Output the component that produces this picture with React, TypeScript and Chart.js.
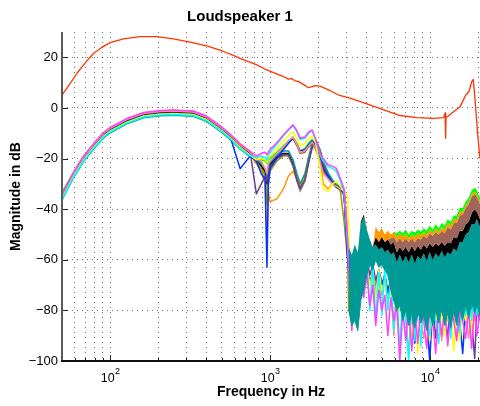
import React, { useEffect, useRef } from "react";
import { Chart, registerables } from "chart.js";

Chart.register(...registerables);

const FONT = "'Liberation Sans', Arial, Helvetica, sans-serif";

// ---- axes ----
const X_TICKS = [50, 60, 70, 80, 90, 100, 200, 300, 400, 500, 600, 700, 800, 900, 1000, 2000, 3000, 4000, 5000, 6000, 7000, 8000, 9000, 10000, 20000];
const X_DECADES = [100, 1000, 10000];
const X_EXPONENTS = ["2", "3", "4"];
const Y_TICKS = [-100, -80, -60, -40, -20, 0, 20];

// ---- red curve ----
const RED_FREQ = [50, 56, 62, 71.5, 79, 89, 100, 121, 154, 196, 249, 316, 402, 511, 589, 649, 825, 953, 1212, 1300, 1366, 1420, 1508, 1620, 1734, 1830, 1908, 2053, 2371, 2676, 3088, 4029, 5126, 6494, 8254, 10500, 12140, 12420, 12500, 12580, 12900, 14000, 15400, 16700, 17500, 18200, 18600, 19100, 19800, 20400, 20500];
const RED_DB = [5.1, 9.5, 13.7, 18.6, 21.6, 24, 25.8, 27.3, 28.2, 28.2, 27.3, 26, 24.5, 22.3, 20.8, 19.6, 17, 15, 12.4, 11.4, 11.6, 10.8, 10.4, 9.2, 8, 8.4, 8.8, 8.6, 6.8, 5.1, 4.1, 1.6, -0.8, -3, -3.8, -4.1, -3.8, -2, -12, -3.6, -3.4, -1.5, 0.5, 5.1, 6.5, 10.4, 11.3, 3.2, -10, -19, -20];

// ---- bundle, low/mid band (50 Hz .. 3 kHz) ----
const FREQ_LOW = [50, 55, 60, 68, 79, 91, 100, 127, 162, 205, 250, 330, 400, 490, 560, 650, 750, 820, 880, 930, 955, 975, 1000, 1100, 1210, 1300, 1390, 1470, 1540, 1650, 1740, 1830, 1930, 2050, 2150, 2300, 2450, 2600, 2750, 2900, 3050];

const MAGENTA_LOW = [-34.2, -29.2, -24.7, -19.2, -14, -9.7, -7.7, -4.2, -1.8, -1, -0.8, -1.2, -3.2, -7.2, -10.2, -14.2, -17.2,
  -19, -18, -17.5, -18.5, -17.5, -16.5, -13.8, -10.7, -8.5, -6.7, -9, -12, -11.5, -9.5, -8.7, -12.5, -18, -20, -22.5, -23, -24, -28, -32, -52];
const CYAN_LOW = [-36, -31, -26.5, -21, -15.8, -11.5, -9.5, -6, -3.6, -2.8, -2.6, -3, -5, -9, -12, -16, -19,
  -19.5, -19, -19.5, -20.5, -18.5, -17.5, -14.5, -11, -8.8, -7, -9.5, -12.5, -12, -10, -9, -12.8, -18.5, -21, -23, -24, -25, -29, -33, -55];
const YELLOW_LOW = [-35.7, -30.7, -26.2, -20.7, -15.5, -11.2, -9.2, -5.7, -3.3, -2.5, -2.3, -2.7, -4.7, -8.7, -11.7, -15.7, -18.7,
  -20.5, -20, -20.5, -21.5, -19.5, -19, -16, -13, -11, -9.5, -12, -15, -14, -12, -11, -14, -24, -32, -33, -30, -29, -31, -33, -35];
const GREEN_LOW = [-33.3, -28.8, -24.8, -19.6, -14.6, -10.4, -8.5, -5.1, -2.7, -1.9, -1.7, -2.1, -4.1, -8.1, -11.1, -15.1, -18.1,
  -21, -20.5, -21, -22, -20.5, -20, -17.5, -15, -13, -11.5, -14, -17, -16, -14, -12.5, -15, -20, -25, -27.5, -29, -30, -31, -33, -50];
const SALMON_LOW = [-34.6, -29.6, -25.1, -19.6, -14.4, -10.1, -8.1, -4.6, -2.2, -1.4, -1.2, -1.6, -3.6, -7.6, -10.6, -14.6, -17.6,
  -20, -21, -24, -26, -22, -21, -18, -15.5, -13, -11.5, -14.5, -17.5, -17, -15, -13.5, -16, -21, -26, -28, -30, -31, -32, -33, -48];
const BLUE_LOW = [-34.8, -29.8, -25.3, -19.8, -14.6, -10.3, -8.3, -4.8, -2.4, -1.6, -1.4, -1.8, -3.8, -7.8, -11, -24, -19,
  -21, -26, -28, -63, -30, -24, -20, -16.5, -14, -12, -14.5, -17, -16.5, -14.5, -13, -15.5, -20, -24, -27, -29.5, -31, -32, -34, -60];
const BROWN_LOW = [-34.7, -29.7, -25.2, -19.7, -14.5, -10.2, -8.2, -4.7, -2.3, -1.5, -1.3, -1.7, -3.7, -7.7, -10.7, -14.7, -17.7,
  -21, -22, -25, -27, -23, -22, -19, -16, -14, -12, -15, -18, -17.5, -15.5, -14, -16.5, -21, -25, -28, -30, -31, -32, -33, -50];
const BLACK_LOW = [-35, -30, -25.5, -20, -14.8, -10.5, -8.5, -5, -2.6, -1.8, -1.6, -2, -4, -8, -11, -15, -18,
  -21, -23, -25, -30, -25, -22.5, -19.5, -18, -18, -22, -28, -31.5, -28, -21, -15, -12.8, -17, -22, -26.5, -29, -31, -31.5, -34, -55];
const GRAY_LOW = [-35.2, -30.2, -25.7, -20.2, -15, -10.7, -8.7, -5.2, -2.8, -2, -1.8, -2.2, -4.2, -8.2, -11.2, -15.2, -18.2,
  -21.5, -24, -26, -33, -26, -23, -20, -18.5, -18.5, -23, -29, -33, -29, -22, -15.5, -13.5, -17.5, -23, -27, -29.5, -31.5, -32, -35, -56];
const TEAL_LOW = [-36.3, -31.3, -26.8, -21.3, -16.1, -11.8, -9.8, -6.3, -3.9, -3.1, -2.9, -3.3, -5.3, -9.3, -12.3, -16.3, -19.3,
  -20, -22, -24, -27, -23, -21.5, -18.5, -17, -17, -20.5, -26, -30, -26, -19.5, -14, -12.6, -16.5, -21, -25.5, -28.5, -30.5, -31, -33, -55];
const ORANGE_LOW = [-35.4, -30.4, -25.9, -20.4, -15.2, -10.9, -8.9, -5.4, -3, -2.2, -2, -2.4, -4.4, -8.4, -11.4, -15.4, -18.4,
  -22, -25, -30, -55, -33, -37, -36, -32, -27, -25, -28, -30, -26, -20, -16, -15, -20, -30, -32, -30, -31, -32, -34, -58];
const PURPLE_LOW = [-34.4, -29.4, -24.9, -19.4, -14.2, -9.9, -7.9, -4.4, -2, -1.2, -1, -1.4, -3.4, -7.4, -10.4, -14.4, -17.4,
  -34, -30, -27, -29, -25, -23, -20, -18.5, -18.5, -22.5, -28.5, -32, -28.5, -21.5, -15.5, -13.5, -17.5, -22.5, -27, -29.5, -31.5, -32, -34, -58];
const OLIVE_LOW = [-35.5, -30.5, -26, -20.5, -15.3, -11, -9, -5.5, -3.1, -2.3, -2.1, -2.5, -4.5, -8.5, -11.5, -15.5, -18.5,
  -21, -24, -27, -38, -30, -25, -21, -19, -19, -23, -28, -31, -28, -21, -15.5, -13.5, -17, -22, -27, -30, -31, -33, -45, -60];

// ---- noisy high band (3.1 kHz .. 20.5 kHz) ----
const FREQ_HIGH = [3100, 3240, 3380, 3530, 3690, 3850, 4020, 4200, 4380, 4570, 4780, 4990, 5210, 5440, 5680, 5930, 6190, 6460, 6750, 7040, 7350, 7680, 8020, 8370, 8740, 9120, 9520, 9940, 10380, 10840, 11320, 11820, 12340, 12880, 13450, 14040, 14660, 15300, 15980, 16680, 17420, 18190, 18990, 19600, 20500];

const GREEN_HIGH = [-55, -58, -54, -57, -45, -42, -48, -52, -55, -47, -49, -47.5, -50, -48.5, -50, -49,
  -49.5, -48.5, -49.5, -48, -50, -48.5, -49.5, -48, -49, -47.5, -48.5, -46.5, -48, -46, -47.5, -45.5, -46.5, -44, -45, -42.5, -42.5, -39.5, -39.5, -37, -35.5, -32.5, -31.5, -32.5, -35.5];
const ORANGE_HIGH = [-55, -58, -54, -57, -45, -42, -48, -52, -55, -47, -49, -47.5, -50, -48.5, -50, -49,
  -51, -49.5, -51, -49.5, -51.5, -50, -51, -49.5, -50.5, -49, -50, -48, -49.5, -47.5, -49, -47, -48, -45.5, -46.5, -44, -44, -41, -41, -38.5, -37, -34, -33, -34, -37];
const BROWN_HIGH = [-55, -58, -54, -57, -45, -42, -48, -52, -55, -51, -53, -51, -53, -52, -51.5, -51,
  -53, -51.5, -53, -51.5, -53, -51.5, -53, -51.5, -52, -50.5, -51.5, -49.5, -50.5, -49, -50, -48.5, -49.5, -47, -48, -45.5, -45.5, -42.5, -42, -39.5, -38, -35, -34, -35, -38];
const BLACK_HIGH = [-55, -58, -54, -57, -45, -42, -48, -52, -55, -51, -53, -51, -53, -52, -54, -53,
  -57, -55, -56.5, -55, -57, -54.5, -56.5, -54.5, -56, -54, -55.5, -53.5, -55, -53.5, -54.5, -53, -54.5, -53, -53.5, -51, -51.5, -48.5, -48.5, -46, -45, -41.5, -40, -41, -44];
const TEAL_HIGH_TOP = [-55, -58, -54, -57, -46, -43, -48, -52, -55, -54, -56, -55, -57, -56, -58, -57,
  -61, -58, -61, -58.5, -61, -58, -61.5, -58.5, -60, -57.5, -60.5, -57, -60, -57.5, -59, -56.5, -59, -57, -58, -55.5, -56.5, -53, -53, -50, -49, -46, -46, -44, -47];
const TEAL_HIGH_BOTTOM = [-80, -86, -84, -88, -76, -72, -66, -62, -64, -60, -63, -62, -64, -66, -72, -76,
  -80, -78, -84, -80, -86, -81, -87, -80, -85, -82, -88, -81, -86, -80, -85, -79, -86, -81, -87, -80, -86, -79, -84, -78, -83, -77, -81, -78, -82];

const MAGENTA_HIGH = [-66, -88, -70, -82, -52, -75, -65, -78, -70, -86, -72, -80, -74, -90, -75, -84, -78, -100, -80, -92, -78, -96, -80, -93, -78, -84, -95, -80, -84, -97, -80, -90, -78, -94, -80, -84, -92, -80, -84, -91, -80, -95, -78, -90, -80];
const CYAN_HIGH = [-62, -70, -60, -75, -55, -68, -62, -80, -62, -84, -65, -82, -63, -80, -66, -88, -70, -97, -72, -84, -100, -75, -92, -72, -94, -74, -84, -90, -74, -84, -93, -72, -84, -74, -91, -72, -84, -89, -72, -82, -70, -84, -68, -82, -66];
const YELLOW_HIGH = [-50, -70, -62, -78, -60, -72, -64, -70, -66, -75, -64, -72, -68, -78, -70, -85, -72, -80, -74, -82, -76, -93, -78, -97, -78, -82, -78, -92, -78, -84, -78, -82, -90, -80, -78, -96, -80, -92, -78, -84, -76, -88, -70, -80, -76];
const BLUE_HIGH = [-64, -72, -66, -74, -60, -70, -64, -68, -66, -72, -64, -70, -66, -74, -68, -76, -70, -78, -72, -80, -74, -82, -93, -78, -80, -76, -82, -100, -78, -80, -76, -82, -78, -92, -76, -82, -78, -84, -97, -80, -76, -80, -74, -78, -74];
const SALMON_HIGH = [-60, -74, -64, -80, -58, -73, -62, -70, -64, -72, -66, -74, -68, -76, -70, -90, -72, -80, -74, -82, -97, -78, -82, -76, -84, -91, -80, -78, -84, -80, -82, -92, -80, -84, -78, -82, -90, -80, -78, -82, -91, -80, -84, -78, -82];
const PURPLE_HIGH = [-58, -66, -60, -68, -56, -64, -60, -66, -62, -68, -64, -70, -66, -72, -68, -74, -70, -76, -72, -78, -74, -80, -76, -80, -76, -82, -78, -82, -78, -91, -78, -82, -80, -84, -78, -82, -80, -84, -80, -82, -78, -84, -99, -80, -84];
const OLIVE_HIGH = [-80, -62, -72, -66, -58, -68, -62, -66, -64, -70, -66, -72, -68, -74, -70, -76, -72, -78, -74, -80, -76, -80, -76, -82, -78, -80, -76, -82, -78, -80, -76, -82, -78, -80, -76, -82, -78, -80, -76, -80, -74, -78, -72, -76, -74];

// ---- colours ----
const C = {
  red: "#ff3300",
  magenta: "#ff40ff",
  cyan: "#00ffff",
  yellow: "#ffff00",
  green: "#00ff00",
  salmon: "#ff8c8c",
  blue: "#0033ff",
  brown: "#a0665c",
  black: "#000000",
  gray: "#999999",
  teal: "#009a96",
  orange: "#ff9900",
  purple: "#6a3d9a",
  olive: "#999900",
};

const toPts = (xs: number[], ys: number[]) => xs.map((x, i) => ({ x, y: ys[i] }));
const FREQ_ALL = FREQ_LOW.concat(FREQ_HIGH);

const line = (label: string, color: string, xs: number[], ys: number[], width = 1.5) => ({
  label,
  data: toPts(xs, ys),
  borderColor: color,
  backgroundColor: color,
  borderWidth: width,
  borderJoinStyle: "round",
  pointRadius: 0,
  fill: false,
});

const band = (label: string, color: string, ys: number[]) => ({
  label,
  data: toPts(FREQ_HIGH, ys),
  borderColor: "rgba(0,0,0,0)",
  backgroundColor: color,
  borderWidth: 1,
  pointRadius: 0,
  fill: "+1",
});

const decorPlugin = {
  id: "decor",
  afterDatasetsDraw(chart: any) {
    const { ctx, chartArea: a, scales } = chart;
    const x = scales.x;
    const y = scales.y;
    ctx.save();
    ctx.setLineDash([]);
    ctx.strokeStyle = "#222";
    ctx.lineWidth = 1;
    for (const v of X_TICKS) {
      const px = Math.round(x.getPixelForValue(v)) + 0.5;
      const len = X_DECADES.includes(v) ? 6 : 3;
      ctx.beginPath();
      ctx.moveTo(px, a.bottom);
      ctx.lineTo(px, a.bottom - len);
      ctx.stroke();
    }
    for (const v of Y_TICKS) {
      const py = Math.round(y.getPixelForValue(v)) + 0.5;
      ctx.beginPath();
      ctx.moveTo(a.left, py);
      ctx.lineTo(a.left + 6, py);
      ctx.stroke();
    }
    ctx.strokeStyle = "#5a5a5a";
    ctx.lineWidth = 2;
    ctx.beginPath();
    ctx.moveTo(a.left, a.top);
    ctx.lineTo(a.left, a.bottom);
    ctx.stroke();
    ctx.strokeStyle = "#111";
    ctx.lineWidth = 2;
    ctx.beginPath();
    ctx.moveTo(a.left - 1, a.bottom);
    ctx.lineTo(a.right, a.bottom);
    ctx.stroke();

    ctx.fillStyle = "#000";
    ctx.textBaseline = "alphabetic";
    ctx.textAlign = "left";
    X_DECADES.forEach((v, i) => {
      const px = x.getPixelForValue(v);
      ctx.font = `12.5px ${FONT}`;
      const w1 = ctx.measureText("10").width;
      ctx.font = `9px ${FONT}`;
      const w2 = ctx.measureText(X_EXPONENTS[i]).width;
      const start = px - (w1 + w2) / 2;
      ctx.font = `12.5px ${FONT}`;
      ctx.fillText("10", start, a.bottom + 21);
      ctx.font = `9px ${FONT}`;
      ctx.fillText(X_EXPONENTS[i], start + w1 + 0.5, a.bottom + 13);
    });
    ctx.restore();
  },
};

export default function App() {
  const ref = useRef<HTMLCanvasElement>(null);

  useEffect(() => {
    document.body.style.margin = "0";
    const datasets: any[] = [
      line("Loudspeaker", C.red, RED_FREQ, RED_DB, 1.3),
      band("green hi", C.green, GREEN_HIGH),
      band("orange hi", C.orange, ORANGE_HIGH),
      band("brown hi", C.brown, BROWN_HIGH),
      band("black hi", C.black, BLACK_HIGH),
      band("teal hi", C.teal, TEAL_HIGH_TOP),
      line("teal hi bottom", C.teal, FREQ_HIGH, TEAL_HIGH_BOTTOM, 1),
      line("magenta", C.magenta, FREQ_ALL, MAGENTA_LOW.concat(MAGENTA_HIGH)),
      line("cyan", C.cyan, FREQ_ALL, CYAN_LOW.concat(CYAN_HIGH)),
      line("yellow", C.yellow, FREQ_ALL, YELLOW_LOW.concat(YELLOW_HIGH)),
      line("salmon", C.salmon, FREQ_ALL, SALMON_LOW.concat(SALMON_HIGH)),
      line("blue", C.blue, FREQ_ALL, BLUE_LOW.concat(BLUE_HIGH)),
      line("purple", C.purple, FREQ_ALL, PURPLE_LOW.concat(PURPLE_HIGH)),
      line("olive", C.olive, FREQ_ALL, OLIVE_LOW.concat(OLIVE_HIGH)),
      line("teal", C.teal, FREQ_LOW, TEAL_LOW),
      line("black", C.black, FREQ_LOW, BLACK_LOW),
      line("gray", C.gray, FREQ_LOW, GRAY_LOW),
      line("brown", C.brown, FREQ_LOW, BROWN_LOW),
      line("orange", C.orange, FREQ_LOW, ORANGE_LOW),
      line("green", C.green, FREQ_LOW, GREEN_LOW),
    ];

    const gridOpts = { color: "rgba(0,0,0,0.55)", lineWidth: 1, drawTicks: false };
    const borderOpts = { display: false, dash: [1, 4] };

    const chart = new Chart(ref.current as HTMLCanvasElement, {
      type: "line",
      data: { datasets },
      plugins: [decorPlugin],
      options: {
        responsive: false,
        animation: false,
        devicePixelRatio: 1,
        layout: { padding: 0 },
        elements: { point: { radius: 0 }, line: { tension: 0 } },
        plugins: {
          legend: { display: false },
          tooltip: { enabled: false },
          title: {
            display: true,
            text: "Loudspeaker 1",
            color: "#000",
            font: { family: FONT, size: 15, weight: "bold" },
            padding: { top: 8, bottom: 6 },
          },
        },
        scales: {
          x: {
            type: "logarithmic",
            min: 50,
            max: 20500,
            afterBuildTicks: (s: any) => {
              s.ticks = X_TICKS.map((v) => ({ value: v }));
            },
            afterFit: (s: any) => {
              s.height = 45;
            },
            ticks: { display: false },
            grid: gridOpts,
            border: borderOpts,
            title: {
              display: true,
              text: "Frequency in Hz",
              color: "#000",
              font: { family: FONT, size: 14, weight: "bold" },
              padding: { top: 0, bottom: 5 },
            },
          },
          y: {
            type: "linear",
            min: -100,
            max: 30,
            afterBuildTicks: (s: any) => {
              s.ticks = Y_TICKS.map((v) => ({ value: v }));
            },
            afterFit: (s: any) => {
              s.width = 62;
            },
            ticks: {
              color: "#000",
              font: { family: FONT, size: 13 },
              padding: 4,
              callback: (v: any) => String(v).replace("-", "\u2212"),
            },
            grid: gridOpts,
            border: borderOpts,
            title: {
              display: true,
              text: "Magnitude in dB",
              color: "#000",
              font: { family: FONT, size: 14, weight: "bold" },
              padding: { top: 8, bottom: 0 },
            },
          },
        },
      } as any,
    });
    return () => chart.destroy();
  }, []);

  return (
    <div style={{ width: 480, height: 406 }}>
      <canvas ref={ref} width={480} height={406} style={{ display: "block" }} />
    </div>
  );
}
